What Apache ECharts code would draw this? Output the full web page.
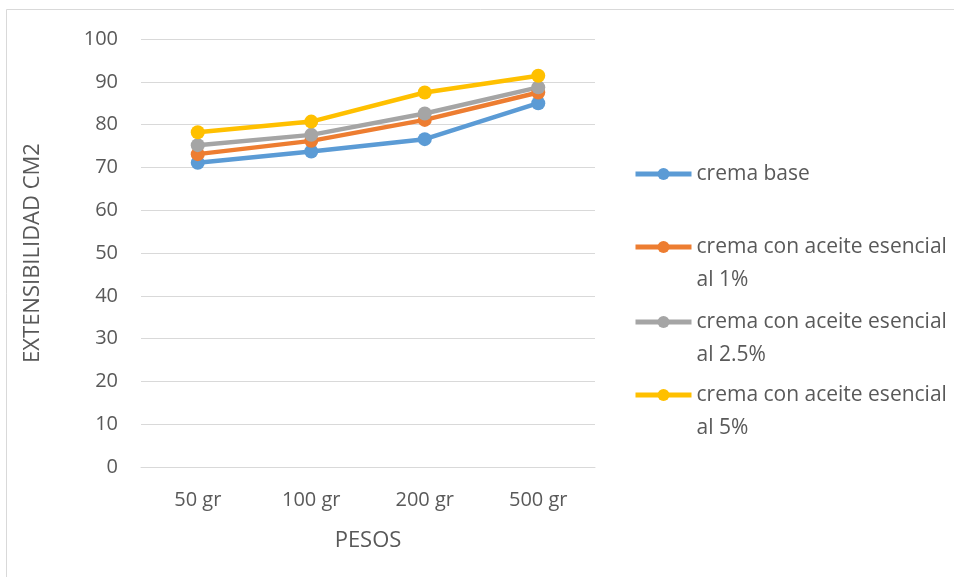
<!DOCTYPE html>
<html>
<head>
<meta charset="utf-8">
<script src="https://cdn.jsdelivr.net/npm/echarts@6/dist/echarts.min.js"></script>
<style>
  html, body { margin: 0; padding: 0; background: #fff; }
  #chart { width: 954px; height: 577px; }
</style>
</head>
<body>
<div id="chart"></div>
<script>
const categories = ['50 gr', '100 gr', '200 gr', '500 gr'];
const seriesNames = [
  'crema base',
  'crema con aceite esencial al 1%',
  'crema con aceite esencial al 2.5%',
  'crema con aceite esencial al 5%'
];
const cremaBase = [71.1, 73.7, 76.6, 85.0];
const aceite1 = [73.1, 76.2, 81.1, 87.5];
const aceite25 = [75.2, 77.6, 82.6, 88.7];
const aceite5 = [78.2, 80.7, 87.5, 91.4];
const yTicks = [0, 10, 20, 30, 40, 50, 60, 70, 80, 90, 100];

const colors = ['#5b9bd5', '#ed7d31', '#a5a5a5', '#ffc000'];
const values = [cremaBase, aceite1, aceite25, aceite5];
const fontFamily = '"Open Sans", "Noto Sans", sans-serif';
const textColor = '#595959';

const chart = echarts.init(document.getElementById('chart'));

// one legend per series so each row sits where the original has it.
// wrapped names get a blank first line so the icon lines up with the first text line
const legendCenters = [174, 247, 322, 395];
const legends = seriesNames.map((name, i) => {
  const wrapped = name.indexOf(' al ') >= 0;
  return {
    data: [name],
    left: 633,
    top: legendCenters[i] - (wrapped ? 49.5 : 16.5),
    padding: 0,
    itemWidth: 56,
    itemHeight: 15,
    lineStyle: { width: 5 },
    formatter: n => n.indexOf(' al ') >= 0 ? ' \n' + n.replace(' al ', '\nal ') : n,
    textStyle: {
      color: textColor,
      fontSize: 21,
      fontFamily: fontFamily,
      lineHeight: 33
    }
  };
});

const option = {
  backgroundColor: '#fff',
  color: colors,
  animation: false,
  graphic: [{
    type: 'rect',
    shape: { x: 6.5, y: 9.5, width: 1000, height: 1000 },
    style: { fill: 'none', stroke: '#d9d9d9', lineWidth: 1 },
    silent: true
  }],
  legend: legends,
  grid: { left: 141, top: 39, width: 454, bottom: 110 },
  xAxis: {
    type: 'category',
    data: categories,
    name: 'PESOS',
    nameLocation: 'middle',
    nameGap: 63,
    nameTextStyle: { color: textColor, fontSize: 22, fontFamily: fontFamily },
    axisLine: { lineStyle: { color: '#d9d9d9' } },
    axisTick: { show: false },
    axisLabel: { color: textColor, fontSize: 20, fontFamily: fontFamily, margin: 23 }
  },
  yAxis: {
    type: 'value',
    min: yTicks[0],
    max: yTicks[yTicks.length - 1],
    interval: 10,
    name: 'EXTENSIBILIDAD CM2',
    nameLocation: 'middle',
    nameGap: 97,
    nameTextStyle: { color: textColor, fontSize: 22, fontFamily: fontFamily },
    axisLine: { show: false },
    axisTick: { show: false },
    splitLine: { lineStyle: { color: '#d9d9d9', width: 1 } },
    axisLabel: { color: textColor, fontSize: 20, fontFamily: fontFamily, margin: 23 }
  },
  series: seriesNames.map((name, i) => ({
    name: name,
    type: 'line',
    data: values[i],
    symbol: 'circle',
    symbolSize: 14,
    lineStyle: { width: 4.5, color: colors[i] },
    itemStyle: { color: colors[i] }
  }))
};

chart.setOption(option);
</script>
</body>
</html>
